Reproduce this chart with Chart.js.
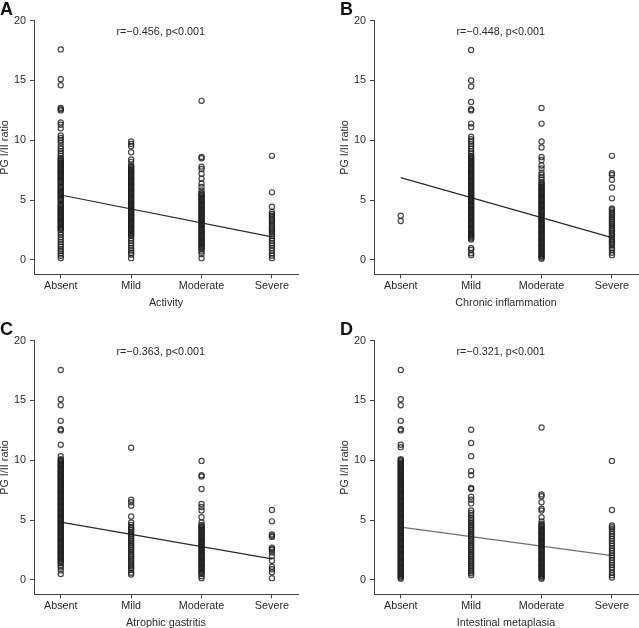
<!DOCTYPE html>
<html>
<head>
<meta charset="utf-8">
<script src="https://cdn.jsdelivr.net/npm/chart.js@4.4.1/dist/chart.umd.min.js"></script>
<style>
  html, body { margin: 0; padding: 0; background: #fff; }
  body { width: 639px; height: 628px; position: relative; overflow: hidden; }
  .panel { position: absolute; width: 299px; height: 308px; }
</style>
</head>
<body>
<div class="panel" style="left:0;top:0"><canvas id="chartA" width="299" height="308"></canvas></div>
<div class="panel" style="left:340px;top:0"><canvas id="chartB" width="299" height="308"></canvas></div>
<div class="panel" style="left:0;top:320px"><canvas id="chartC" width="299" height="308"></canvas></div>
<div class="panel" style="left:340px;top:320px"><canvas id="chartD" width="299" height="308"></canvas></div>
<script>
const categories = ['Absent', 'Mild', 'Moderate', 'Severe'];
const yTicks = [0, 5, 10, 15, 20];

// PG I/II ratio values per grade (dense parts packed close)
const activity = [
    [17.6, 15.1, 14.6, 12.7, 12.6, 12.5, 11.5, 11.3, 11.0, 10.4, 10.2, 10.0, 9.8, 9.5, 9.3, 9.1, 8.9, 8.7, 8.5,
     8.4, 8.3, 8.2, 8.1, 8.0, 7.9, 7.8, 7.7, 7.6, 7.5, 7.4, 7.3, 7.2, 7.1, 7.0, 6.9, 6.8, 6.7, 6.6, 6.5, 6.4,
     6.2, 6.1, 6.0, 5.9, 5.8, 5.7, 5.6, 5.5, 5.4, 5.3, 5.2, 5.1, 5.0, 4.9, 4.7, 4.6, 4.5, 4.4, 4.3, 4.2, 4.1,
     4.0, 3.9, 3.8, 3.7, 3.6, 3.5, 3.4, 3.3, 3.2, 3.1, 3.0, 2.9, 2.8, 2.7, 2.6, 2.5,
     2.3, 2.1, 1.9, 1.7, 1.5, 1.3, 1.1, 0.9, 0.75, 0.55, 0.35, 0.15],
    [9.9, 9.7, 9.5, 9.0, 8.4, 8.2, 7.9, 7.8, 7.7, 7.6, 7.5, 7.4, 7.3, 7.2, 7.1, 7.0, 6.9, 6.8, 6.7, 6.6, 6.5,
     6.4, 6.3, 6.2, 6.1, 6.0, 5.9, 5.8, 5.7, 5.6, 5.5, 5.4, 5.3, 5.2, 5.1, 5.0, 4.9, 4.8, 4.7, 4.6, 4.5, 4.4,
     4.3, 4.2, 4.1, 4.0, 3.9, 3.8, 3.7, 3.6, 3.5, 3.4, 3.3, 3.2, 3.1, 3.0, 2.9, 2.8, 2.7, 2.6, 2.5, 2.4, 2.3,
     2.2, 2.1, 2.0, 1.8, 1.6, 1.4, 1.2, 1.0, 0.8, 0.6, 0.45, 0.15],
    [13.3, 8.6, 8.5, 7.8, 7.6, 7.2, 6.8, 6.4, 6.1, 5.8, 5.6, 5.5, 5.4, 5.3, 5.2, 5.1, 5.0, 4.9, 4.8, 4.7, 4.6,
     4.5, 4.4, 4.3, 4.2, 4.1, 4.0, 3.9, 3.8, 3.7, 3.6, 3.5, 3.4, 3.3, 3.2, 3.1, 3.0, 2.9, 2.8, 2.7, 2.6, 2.5,
     2.4, 2.3, 2.2, 2.1, 2.0, 1.9, 1.8, 1.7, 1.6, 1.5, 1.4, 1.3, 1.2, 1.1, 1.0, 0.9, 0.7, 0.5, 0.15],
    [8.7, 5.65, 4.45, 4.0, 3.85, 3.7, 3.55, 3.4, 3.25, 3.1, 2.95, 2.8, 2.65, 2.5, 2.35, 2.2, 2.0, 1.8, 1.6,
     1.4, 1.2, 1.0, 0.8, 0.55, 0.35, 0.15]
];
const chronic = [
    [3.7, 3.25],
    [17.55, 15.0, 14.5, 13.2, 12.6, 12.5, 11.4, 11.1, 10.3, 10.1, 9.9, 9.7, 9.5, 9.3, 9.1, 8.9, 8.7,
     8.6, 8.5, 8.4, 8.3, 8.2, 8.1, 8.0, 7.9, 7.8, 7.7, 7.6, 7.5, 7.4, 7.3, 7.2, 7.1, 7.0, 6.9, 6.8, 6.7, 6.6,
     6.5, 6.4, 6.3, 6.2, 6.1, 6.0, 5.9, 5.8, 5.7, 5.6, 5.5, 5.4, 5.3, 5.2, 5.1, 5.0, 4.9, 4.8, 4.7, 4.6, 4.5,
     4.4, 4.3, 4.2, 4.1, 4.0, 3.9, 3.8, 3.7, 3.6, 3.5, 3.4, 3.3, 3.2, 3.1, 3.0, 2.9, 2.8, 2.7, 2.6, 2.5, 2.4,
     2.3, 2.2, 2.1, 2.0, 1.9, 1.8, 1.7, 1.0, 0.85, 0.55, 0.4],
    [12.7, 11.4, 9.9, 9.4, 8.6, 8.35, 7.9, 7.65, 7.3, 7.1, 6.9, 6.7, 6.5, 6.4, 6.3, 6.2, 6.1, 6.0, 5.9, 5.8,
     5.7, 5.6, 5.5, 5.4, 5.3, 5.2, 5.1, 5.0, 4.9, 4.8, 4.7, 4.6, 4.5, 4.4, 4.3, 4.2, 4.1, 4.0, 3.9, 3.8, 3.7,
     3.6, 3.5, 3.4, 3.3, 3.2, 3.1, 3.0, 2.9, 2.8, 2.7, 2.6, 2.5, 2.4, 2.3, 2.2, 2.1, 2.0, 1.9, 1.8, 1.7, 1.6,
     1.5, 1.4, 1.3, 1.2, 1.1, 1.0, 0.9, 0.8, 0.7, 0.6, 0.5, 0.4, 0.3, 0.2, 0.1],
    [8.7, 7.25, 7.1, 6.7, 6.05, 5.15, 4.3, 4.2, 4.05, 3.9, 3.75, 3.6, 3.45, 3.3, 3.15, 3.0, 2.85, 2.7, 2.55,
     2.4, 2.25, 2.1, 1.95, 1.8, 1.65, 1.5, 1.35, 1.2, 1.0, 0.85, 0.6, 0.4]
];
const atrophy = [
    [17.55, 15.1, 14.6, 13.3, 12.6, 12.5, 11.3, 10.35, 10.1, 10.0, 9.9, 9.8, 9.7, 9.6, 9.5, 9.4, 9.3, 9.2,
     9.1, 9.0, 8.9, 8.8, 8.7, 8.6, 8.5, 8.4, 8.3, 8.2, 8.1, 8.0, 7.9, 7.8, 7.7, 7.6, 7.5, 7.4, 7.3, 7.2, 7.1,
     7.0, 6.9, 6.8, 6.7, 6.6, 6.5, 6.4, 6.3, 6.2, 6.1, 6.0, 5.9, 5.8, 5.7, 5.6, 5.5, 5.4, 5.3, 5.2, 5.1, 5.0,
     4.9, 4.8, 4.7, 4.6, 4.5, 4.4, 4.3, 4.2, 4.1, 4.0, 3.9, 3.8, 3.7, 3.6, 3.5, 3.4, 3.3, 3.2, 3.1, 3.0, 2.9,
     2.8, 2.7, 2.6, 2.5, 2.4, 2.3, 2.2, 2.1, 2.0, 1.9, 1.8, 1.7, 1.6, 1.5, 1.4, 1.2, 1.05, 0.8, 0.5],
    [11.05, 6.7, 6.5, 6.2, 5.3, 4.8, 4.6, 4.4, 4.3, 4.15, 4.0, 3.85, 3.7, 3.55, 3.4, 3.25, 3.1, 2.95, 2.8,
     2.65, 2.5, 2.35, 2.2, 2.05, 1.9, 1.75, 1.6, 1.45, 1.3, 1.15, 1.0, 0.85, 0.6, 0.45],
    [9.95, 8.75, 8.65, 7.6, 6.35, 6.1, 5.8, 5.25, 4.8, 4.6, 4.5, 4.4, 4.3, 4.2, 4.1, 4.0, 3.9, 3.8, 3.7, 3.6,
     3.5, 3.4, 3.3, 3.2, 3.1, 3.0, 2.9, 2.8, 2.7, 2.6, 2.5, 2.4, 2.3, 2.2, 2.1, 2.0, 1.9, 1.8, 1.7, 1.6, 1.5,
     1.4, 1.3, 1.2, 1.1, 1.0, 0.9, 0.8, 0.7, 0.6, 0.5, 0.3, 0.15],
    [5.85, 4.9, 3.8, 3.7, 3.6, 2.7, 2.6, 2.5, 2.3, 2.0, 1.6, 1.1, 0.9, 0.65, 0.15]
];
const metaplasia = [
    [17.55, 15.1, 14.6, 13.3, 12.6, 12.5, 11.3, 11.1, 10.1, 10.0, 9.9, 9.8, 9.7, 9.6, 9.5, 9.4, 9.3, 9.2,
     9.1, 9.0, 8.9, 8.8, 8.7, 8.6, 8.5, 8.4, 8.3, 8.2, 8.1, 8.0, 7.9, 7.8, 7.7, 7.6, 7.5, 7.4, 7.3, 7.2, 7.1,
     7.0, 6.9, 6.8, 6.7, 6.6, 6.5, 6.4, 6.3, 6.2, 6.1, 6.0, 5.9, 5.8, 5.7, 5.6, 5.5, 5.4, 5.3, 5.2, 5.1, 5.0,
     4.9, 4.8, 4.7, 4.6, 4.5, 4.4, 4.3, 4.2, 4.1, 4.0, 3.9, 3.8, 3.7, 3.6, 3.5, 3.4, 3.3, 3.2, 3.1, 3.0, 2.9,
     2.8, 2.7, 2.6, 2.5, 2.4, 2.3, 2.2, 2.1, 2.0, 1.9, 1.8, 1.7, 1.6, 1.5, 1.4, 1.3, 1.2, 1.1, 1.0, 0.9, 0.8,
     0.7, 0.6, 0.5, 0.4, 0.3, 0.2, 0.1],
    [12.55, 11.45, 10.35, 9.1, 8.75, 7.7, 7.6, 6.95, 6.7, 6.4, 5.8, 5.6, 5.4, 5.2, 5.05, 4.9, 4.75, 4.6,
     4.45, 4.3, 4.15, 4.0, 3.85, 3.7, 3.55, 3.4, 3.25, 3.1, 2.95, 2.8, 2.65, 2.5, 2.35, 2.2, 2.05, 1.9, 1.75,
     1.6, 1.45, 1.3, 1.15, 1.0, 0.85, 0.7, 0.55, 0.4],
    [12.75, 7.15, 7.0, 6.5, 5.95, 5.8, 5.25, 4.9, 4.7, 4.6, 4.5, 4.4, 4.3, 4.2, 4.1, 4.0, 3.9, 3.8, 3.7, 3.6,
     3.5, 3.4, 3.3, 3.2, 3.1, 3.0, 2.9, 2.8, 2.7, 2.6, 2.5, 2.4, 2.3, 2.2, 2.1, 2.0, 1.9, 1.8, 1.7, 1.6, 1.5,
     1.4, 1.3, 1.2, 1.1, 1.0, 0.9, 0.8, 0.7, 0.6, 0.5, 0.4, 0.3, 0.2, 0.1],
    [9.95, 5.85, 4.55, 4.4, 4.25, 4.05, 3.85, 3.65, 3.45, 3.25, 3.05, 2.85, 2.65, 2.45, 2.25, 2.05, 1.85,
     1.65, 1.45, 1.25, 1.05, 0.85, 0.6, 0.4, 0.2]
];

// fitted line, value at Absent and at Severe
const fitA = [5.43, 1.93];
const fitB = [6.88, 1.87];
const fitC = [4.83, 1.76];
const fitD = [4.41, 2.04];

const tickFont = { family: '"Liberation Sans", Arial, sans-serif', size: 10.8, lineHeight: 1 };
const textColor = '#2b2b2b';
const axisColor = '#444';

const panelText = {
    id: 'panelText',
    afterDraw(chart, args, opts) {
        const ctx = chart.ctx;
        const x = chart.scales.x, y = chart.scales.y;
        ctx.save();
        ctx.fillStyle = '#111';
        ctx.font = 'bold 18px "Liberation Sans", Arial, sans-serif';
        ctx.textAlign = 'left';
        ctx.textBaseline = 'alphabetic';
        ctx.fillText(opts.letter, 0, 14.5);
        ctx.fillStyle = textColor;
        ctx.font = '10.8px "Liberation Sans", Arial, sans-serif';
        ctx.textAlign = 'center';
        ctx.textBaseline = 'middle';
        ctx.fillText(opts.stat, x.getPixelForValue(1.42), y.getPixelForValue(19.07));
        ctx.restore();
    }
};

function makePanel(id, letter, xTitle, stat, columns, fit, lineColor) {
    let points = [];
    columns.forEach((vals, i) => {
        vals.forEach(v => points.push({ x: i, y: v }));
    });
    new Chart(document.getElementById(id), {
        type: 'scatter',
        data: {
            datasets: [{
                data: points,
                pointStyle: 'circle',
                pointRadius: 2.6,
                pointBorderWidth: 1.2,
                pointBackgroundColor: 'rgba(0,0,0,0.04)',
                pointBorderColor: 'rgba(30,30,30,0.8)'
            }, {
                data: [{ x: 0, y: fit[0] }, { x: 3, y: fit[1] }],
                showLine: true,
                pointRadius: 0,
                borderColor: lineColor,
                borderWidth: 1.2
            }]
        },
        options: {
            responsive: false,
            animation: false,
            events: [],
            layout: { autoPadding: false, padding: { top: 20.7, right: 1, left: 0, bottom: 0 } },
            plugins: {
                legend: { display: false },
                tooltip: { enabled: false },
                panelText: { letter: letter, stat: stat }
            },
            scales: {
                x: {
                    type: 'linear',
                    min: -0.38,
                    max: 3.37,
                    grid: { drawOnChartArea: false, drawTicks: true, tickLength: 4, color: axisColor },
                    border: { display: true, color: axisColor, width: 1 },
                    ticks: {
                        stepSize: 1,
                        includeBounds: false,
                        autoSkip: false,
                        maxRotation: 0,
                        padding: 2,
                        color: textColor,
                        font: tickFont,
                        callback: (v) => categories[v] ?? ''
                    },
                    title: { display: true, text: xTitle, color: textColor, font: tickFont, padding: 0 },
                    afterFit: (s) => { s.height = 33.7; }
                },
                y: {
                    min: -1.2,
                    max: 20,
                    grid: { drawOnChartArea: false, drawTicks: true, tickLength: 4, color: axisColor },
                    border: { display: true, color: axisColor, width: 1 },
                    ticks: {
                        stepSize: 5,
                        includeBounds: false,
                        padding: 4,
                        color: textColor,
                        font: tickFont,
                        callback: (v) => yTicks.includes(v) ? String(v) : ''
                    },
                    title: { display: true, text: 'PG I/II ratio', color: textColor, font: tickFont, padding: 0 },
                    afterFit: (s) => { s.width = 34; }
                }
            }
        },
        plugins: [panelText]
    });
}

makePanel('chartA', 'A', 'Activity', 'r=\u22120.456, p<0.001', activity, fitA, '#2a2a2a');
makePanel('chartB', 'B', 'Chronic inflammation', 'r=\u22120.448, p<0.001', chronic, fitB, '#2a2a2a');
makePanel('chartC', 'C', 'Atrophic gastritis', 'r=\u22120.363, p<0.001', atrophy, fitC, '#2a2a2a');
makePanel('chartD', 'D', 'Intestinal metaplasia', 'r=\u22120.321, p<0.001', metaplasia, fitD, '#707070');
</script>
</body>
</html>
